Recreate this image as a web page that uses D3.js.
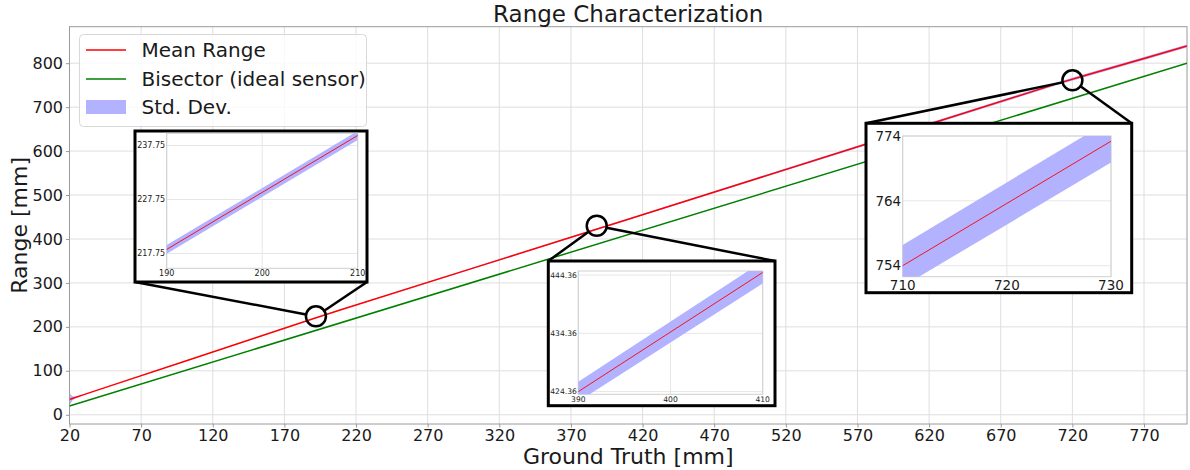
<!DOCTYPE html>
<html>
<head>
<meta charset="utf-8">
<script src="https://cdn.jsdelivr.net/npm/d3@7/dist/d3.min.js"></script>
<style>
  html, body { margin: 0; padding: 0; background: #fff; }
  svg { display: block; font-family: "DejaVu Sans", sans-serif; }
</style>
</head>
<body>
<svg id="chart" width="1190" height="470"></svg>
<script>
// ---------------- data ----------------
const groundTruth = [20, 21, 22, 24, 30, 50, 100, 150, 190, 210, 300, 390, 410, 500, 600, 710, 730, 770, 800];
const meanRange   = [35, 36, 37.2, 39.3, 45.8, 67.4, 121.3, 175.3, 218.5, 239.6, 332, 424.36, 444.8, 537.6, 640.7, 754, 773.2, 810.6, 839];
const stdDev      = [15, 9, 5, 1.5, 0.5, 0.5, 0.6, 0.7, 0.8, 0.85, 1.3, 1.7, 1.9, 2.3, 2.7, 3.2, 3.3, 3.5, 3.6];
const bisectorX   = [20, 800];
const bisectorY   = [20, 800];

const xTicks = [20, 70, 120, 170, 220, 270, 320, 370, 420, 470, 520, 570, 620, 670, 720, 770];
const yTicks = [0, 100, 200, 300, 400, 500, 600, 700, 800];

const legendLabels = ["Mean Range", "Bisector (ideal sensor)", "Std. Dev."];
const titleText = "Range Characterization";
const xLabel = "Ground Truth [mm]";
const yLabel = "Range [mm]";

// zoom insets: data windows, ticks and circle centres (data units)
const insetXDomains = [[190, 210], [390, 410], [710, 730]];
const insetYDomains = [[215, 240], [423.9, 445.05], [752.3, 774]];
const insetXTicks   = [[190, 200, 210], [390, 400, 410], [710, 720, 730]];
const insetYTicks   = [[217.75, 227.75, 237.75], [424.36, 434.36, 444.36], [754, 764, 774]];
const insetCircleX  = [192, 388, 720];
const insetCircleY  = [224, 430, 761];

// ---------------- layout ----------------
const svg = d3.select("#chart");
const plot = { left: 69.5, right: 1187, top: 26.7, bottom: 424 };
const x = d3.scaleLinear().domain([20, 800]).range([plot.left, plot.right]);
const y = d3.scaleLinear().domain([-21, 883]).range([plot.bottom, plot.top]);

const insetLayout = [
  { box: [135, 131, 367, 282], ax: [166.7, 133.3, 357.7, 268.3], font: 8, corners: "bottom" },
  { box: [548.3, 261, 775, 405.7], ax: [578.3, 271, 762.7, 394.3], font: 7.6, corners: "top" },
  { box: [866, 123.3, 1131.7, 292.7], ax: [902.7, 136, 1111, 276.7], font: 13.5, corners: "top" }
];

const colors = { mean: "#ff0000", bis: "#008000", band: "#b2b2ff", grid: "#dedede", frame: "#9a9a9a", text: "#1a1a1a" };

const rows = groundTruth.map((g, i) => ({ g, m: meanRange[i], s: stdDev[i] }));

const defs = svg.append("defs");
defs.append("clipPath").attr("id", "clipMain").append("rect")
  .attr("x", plot.left).attr("y", plot.top)
  .attr("width", plot.right - plot.left).attr("height", plot.bottom - plot.top);

// grid
const g0 = svg.append("g");
g0.selectAll("line.vx").data(xTicks).join("line")
  .attr("x1", d => x(d)).attr("x2", d => x(d))
  .attr("y1", plot.top).attr("y2", plot.bottom)
  .attr("stroke", colors.grid).attr("stroke-width", 1);
g0.selectAll("line.hy").data(yTicks).join("line")
  .attr("y1", d => y(d)).attr("y2", d => y(d))
  .attr("x1", plot.left).attr("x2", plot.right)
  .attr("stroke", colors.grid).attr("stroke-width", 1);

// frame
svg.append("rect").attr("x", plot.left).attr("y", plot.top)
  .attr("width", plot.right - plot.left).attr("height", plot.bottom - plot.top)
  .attr("fill", "none").attr("stroke", colors.frame).attr("stroke-width", 1);

// axes ticks & labels
const xAxis = d3.axisBottom(x).tickValues(xTicks).tickSize(3.5).tickPadding(2).tickFormat(d3.format("d"));
const gx = svg.append("g").attr("transform", `translate(0,${plot.bottom})`).call(xAxis);
const yAxis = d3.axisLeft(y).tickValues(yTicks).tickSize(3.5).tickPadding(3).tickFormat(d3.format("d"));
const gy = svg.append("g").attr("transform", `translate(${plot.left},0)`).call(yAxis);
[gx, gy].forEach(g => {
  g.select(".domain").remove();
  g.selectAll(".tick line").attr("stroke", colors.frame);
  g.selectAll(".tick text").attr("fill", colors.text).style("font-size", "16px").style("font-family", "DejaVu Sans");
});

// main series
const mainG = svg.append("g").attr("clip-path", "url(#clipMain)");
const area = d3.area().x(d => x(d.g)).y0(d => y(d.m - d.s)).y1(d => y(d.m + d.s));
const lineMean = d3.line().x(d => x(d.g)).y(d => y(d.m));
mainG.append("path").datum(rows).attr("d", area).attr("fill", colors.band);
mainG.append("path").datum(rows).attr("d", lineMean).attr("fill", "none").attr("stroke", colors.mean).attr("stroke-width", 1.5);
mainG.append("path").datum(bisectorX.map((v, i) => [v, bisectorY[i]]))
  .attr("d", d3.line().x(d => x(d[0])).y(d => y(d[1])))
  .attr("fill", "none").attr("stroke", colors.bis).attr("stroke-width", 1.5);

// title & axis labels
svg.append("text").attr("x", (plot.left + plot.right) / 2).attr("y", 22)
  .attr("text-anchor", "middle").style("font-size", "23px").attr("fill", colors.text).text(titleText);
svg.append("text").attr("x", (plot.left + plot.right) / 2).attr("y", 464)
  .attr("text-anchor", "middle").style("font-size", "22px").attr("fill", colors.text).text(xLabel);
svg.append("text").attr("transform", `translate(27,${(plot.top + plot.bottom) / 2}) rotate(-90)`)
  .attr("text-anchor", "middle").style("font-size", "22px").attr("fill", colors.text).text(yLabel);

// circles and connectors
const R = 10;
insetLayout.forEach((L, i) => {
  const cx = x(insetCircleX[i]), cy = y(insetCircleY[i]);
  const [bx0, by0, bx1, by1] = L.box;
  const corners = L.corners === "bottom" ? [[bx0, by1], [bx1, by1]] : [[bx0, by0], [bx1, by0]];
  corners.forEach(([px, py]) => {
    const dx = px - cx, dy = py - cy, len = Math.hypot(dx, dy);
    svg.append("line").attr("x1", px).attr("y1", py)
      .attr("x2", cx + dx / len * R).attr("y2", cy + dy / len * R)
      .attr("stroke", "#000").attr("stroke-width", 2.5);
  });
  svg.append("circle").attr("cx", cx).attr("cy", cy).attr("r", R)
    .attr("fill", "none").attr("stroke", "#000").attr("stroke-width", 2.5);
});

// insets
insetLayout.forEach((L, i) => {
  const [bx0, by0, bx1, by1] = L.box;
  const [ax0, ay0, ax1, ay1] = L.ax;
  const g = svg.append("g");
  g.append("rect").attr("x", bx0).attr("y", by0).attr("width", bx1 - bx0).attr("height", by1 - by0)
    .attr("fill", "#fff").attr("stroke", "#000").attr("stroke-width", 3);
  const ix = d3.scaleLinear().domain(insetXDomains[i]).range([ax0, ax1]);
  const iy = d3.scaleLinear().domain(insetYDomains[i]).range([ay1, ay0]);
  const cid = "clipInset" + i;
  defs.append("clipPath").attr("id", cid).append("rect")
    .attr("x", ax0).attr("y", ay0).attr("width", ax1 - ax0).attr("height", ay1 - ay0);
  g.selectAll("line.gx").data(insetXTicks[i]).join("line")
    .attr("x1", d => ix(d)).attr("x2", d => ix(d)).attr("y1", ay0).attr("y2", ay1)
    .attr("stroke", "#e6e6e6").attr("stroke-width", 1);
  g.selectAll("line.gy").data(insetYTicks[i]).join("line")
    .attr("y1", d => iy(d)).attr("y2", d => iy(d)).attr("x1", ax0).attr("x2", ax1)
    .attr("stroke", "#e6e6e6").attr("stroke-width", 1);
  g.append("rect").attr("x", ax0).attr("y", ay0).attr("width", ax1 - ax0).attr("height", ay1 - ay0)
    .attr("fill", "none").attr("stroke", "#cfcfcf").attr("stroke-width", 1);
  const ig = g.append("g").attr("clip-path", `url(#${cid})`);
  ig.append("path").datum(rows)
    .attr("d", d3.area().x(d => ix(d.g)).y0(d => iy(d.m - d.s)).y1(d => iy(d.m + d.s)))
    .attr("fill", colors.band);
  ig.append("path").datum(rows)
    .attr("d", d3.line().x(d => ix(d.g)).y(d => iy(d.m)))
    .attr("fill", "none").attr("stroke", colors.mean).attr("stroke-width", 0.9);
  const fmtY = v => (Number.isInteger(v) ? d3.format("d")(v) : d3.format(".2f")(v));
  g.selectAll("text.tx").data(insetXTicks[i]).join("text")
    .attr("x", d => ix(d)).attr("y", ay1 + L.font * 0.95)
    .attr("text-anchor", "middle").style("font-size", L.font + "px").attr("fill", colors.text)
    .text(d => d);
  g.selectAll("text.ty").data(insetYTicks[i]).join("text")
    .attr("x", ax0 - 1.5).attr("y", d => iy(d)).attr("dy", "0.35em")
    .attr("text-anchor", "end").style("font-size", L.font + "px").attr("fill", colors.text)
    .text(d => fmtY(d));
});

// legend
const lg = svg.append("g");
lg.append("rect").attr("x", 79.5).attr("y", 34.5).attr("width", 287).attr("height", 92).attr("rx", 4)
  .attr("fill", "#fff").attr("fill-opacity", 0.8).attr("stroke", "#d8d8d8").attr("stroke-width", 1);
const ly = [50, 79, 107];
lg.append("line").attr("x1", 86).attr("x2", 126).attr("y1", ly[0]).attr("y2", ly[0]).attr("stroke", colors.mean).attr("stroke-width", 1.5);
lg.append("line").attr("x1", 86).attr("x2", 126).attr("y1", ly[1]).attr("y2", ly[1]).attr("stroke", colors.bis).attr("stroke-width", 1.5);
lg.append("rect").attr("x", 86).attr("y", ly[2] - 7).attr("width", 40).attr("height", 14).attr("fill", colors.band);
lg.selectAll("text.lt").data(legendLabels).join("text")
  .attr("x", 141.5).attr("y", (d, i) => ly[i]).attr("dy", "0.36em")
  .style("font-size", "20px").attr("fill", colors.text).text(d => d);
</script>
</body>
</html>
